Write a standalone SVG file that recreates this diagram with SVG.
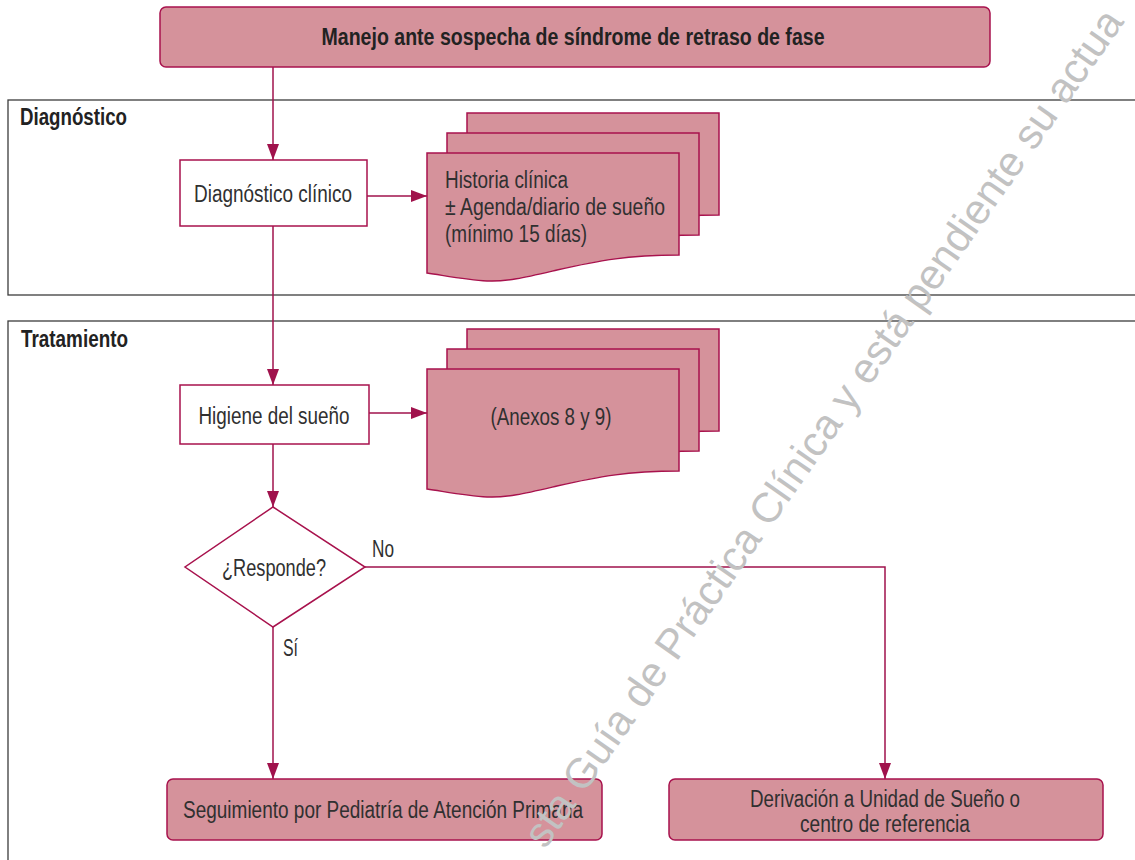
<svg xmlns="http://www.w3.org/2000/svg" width="1135" height="860" viewBox="0 0 1135 860">
<style>
.sec{fill:none;stroke:#3c3c3c;stroke-width:1.3}
.pink{fill:#d5929b;stroke:#a8124d;stroke-width:1.5}
.white{fill:#ffffff;stroke:#a8124d;stroke-width:1.5}
.con{fill:none;stroke:#a0124c;stroke-width:1.5}
.t{font-family:"Liberation Sans",Arial,sans-serif;font-size:23px;fill:#303030}
.b{font-family:"Liberation Sans",Arial,sans-serif;font-size:23px;font-weight:bold;fill:#222222}
.c{text-anchor:middle}
.wm{font-family:"Liberation Sans",Arial,sans-serif;font-size:42px;fill:#c2c2c2}
</style>
<defs>
<marker id="ah" markerUnits="userSpaceOnUse" markerWidth="16" markerHeight="12" refX="16" refY="6" orient="auto">
<path d="M0,0 L16,6 L0,12 Z" fill="#a0124c"/>
</marker>
<path id="doc" d="M0,0 H252 V102 C200,102 170,108 130,117 C100,124 80,129 60,128 C40,127 20,123 0,120 Z"/>
</defs>
<rect width="1135" height="860" fill="#ffffff"/>

<g id="sections">
<rect class="sec" x="8" y="100" width="1140" height="195"/>
<text class="b" x="20" y="125" textLength="107" lengthAdjust="spacingAndGlyphs">Diagnóstico</text>
<rect class="sec" x="8" y="321" width="1140" height="560"/>
<text class="b" x="21" y="347" textLength="107" lengthAdjust="spacingAndGlyphs">Tratamiento</text>
</g>

<g id="connectors">
<path class="con" d="M273,67 V160" marker-end="url(#ah)"/>
<path class="con" d="M273,226 V385" marker-end="url(#ah)"/>
<path class="con" d="M273,444 V507" marker-end="url(#ah)"/>
<path class="con" d="M367,196 H427" marker-end="url(#ah)"/>
<path class="con" d="M369,413 H427" marker-end="url(#ah)"/>
<path class="con" d="M365,567 H885 V779" marker-end="url(#ah)"/>
<path class="con" d="M273,627 V779" marker-end="url(#ah)"/>
<text class="t" x="372" y="557" textLength="22" lengthAdjust="spacingAndGlyphs">No</text>
<text class="t" x="283" y="656" textLength="15" lengthAdjust="spacingAndGlyphs">Sí</text>
</g>

<g id="title">
<rect class="pink" x="160" y="7" width="830" height="60" rx="6"/>
<text class="b c" x="573" y="45" textLength="503" lengthAdjust="spacingAndGlyphs">Manejo ante sospecha de síndrome de retraso de fase</text>
</g>

<g id="diagnostico-clinico">
<rect class="white" x="180" y="160" width="187" height="66"/>
<text class="t c" x="273" y="202" textLength="158" lengthAdjust="spacingAndGlyphs">Diagnóstico clínico</text>
</g>

<g id="doc-historia">
<use href="#doc" class="pink" transform="translate(467,113)"/>
<use href="#doc" class="pink" transform="translate(447,133)"/>
<use href="#doc" class="pink" transform="translate(427,153)"/>
<text class="t" x="445" y="188" textLength="123" lengthAdjust="spacingAndGlyphs">Historia clínica</text>
<text class="t" x="445" y="215" textLength="220" lengthAdjust="spacingAndGlyphs">± Agenda/diario de sueño</text>
<text class="t" x="445" y="242" textLength="142" lengthAdjust="spacingAndGlyphs">(mínimo 15 días)</text>
</g>

<g id="higiene">
<rect class="white" x="180" y="385" width="189" height="59"/>
<text class="t c" x="274" y="424" textLength="151" lengthAdjust="spacingAndGlyphs">Higiene del sueño</text>
</g>

<g id="doc-anexos">
<use href="#doc" class="pink" transform="translate(467,329)"/>
<use href="#doc" class="pink" transform="translate(447,349)"/>
<use href="#doc" class="pink" transform="translate(427,369)"/>
<text class="t c" x="551" y="425" textLength="121" lengthAdjust="spacingAndGlyphs">(Anexos 8 y 9)</text>
</g>

<g id="responde">
<polygon class="white" points="273,507 365,567 273,627 185,567"/>
<text class="t c" x="274" y="576" textLength="104" lengthAdjust="spacingAndGlyphs">¿Responde?</text>
</g>

<g id="seguimiento">
<rect class="pink" x="167" y="779" width="435" height="61" rx="6"/>
<text class="t c" x="383" y="818" textLength="400" lengthAdjust="spacingAndGlyphs">Seguimiento por Pediatría de Atención Primaria</text>
</g>

<g id="derivacion">
<rect class="pink" x="669" y="779" width="434" height="61" rx="6"/>
<text class="t c" x="885" y="807" textLength="270" lengthAdjust="spacingAndGlyphs">Derivación a Unidad de Sueño o</text>
<text class="t c" x="885" y="832" textLength="170" lengthAdjust="spacingAndGlyphs">centro de referencia</text>
</g>

<g id="watermark">
<text class="wm" transform="translate(545,850) rotate(-55)">sta Guía de Práctica Clínica y está pendiente su actua</text>
</g>
</svg>
